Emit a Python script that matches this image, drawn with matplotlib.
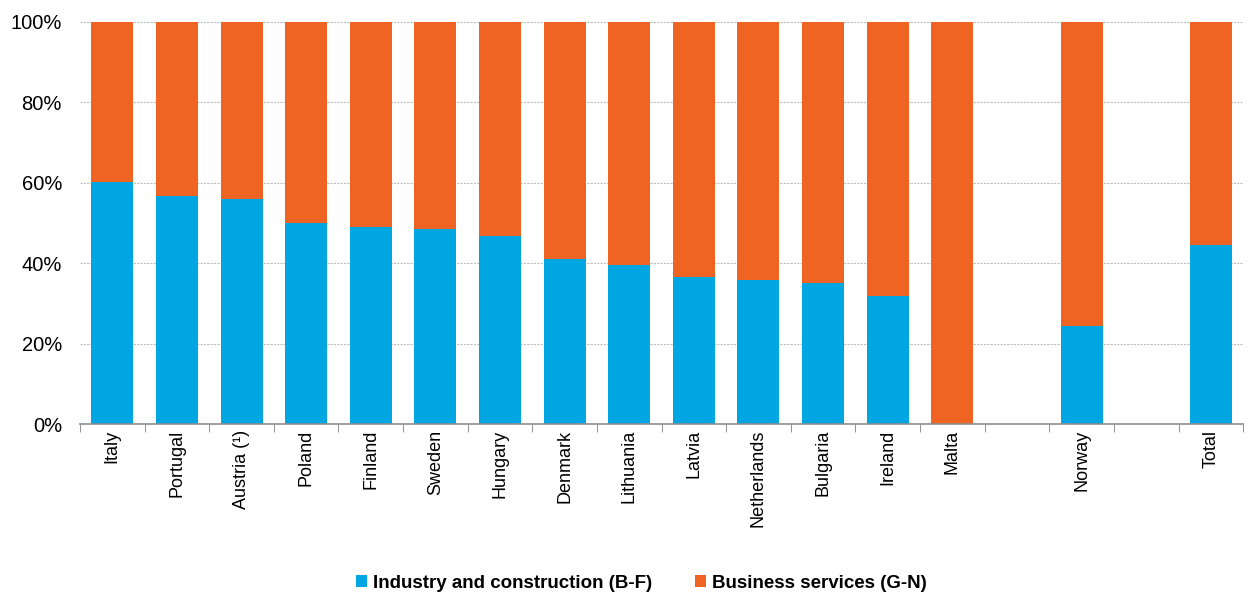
import matplotlib.pyplot as plt
import numpy as np
from matplotlib.ticker import PercentFormatter

plt.rcParams['font.family'] = ['Liberation Sans', 'DejaVu Sans']

# empty strings are the gaps in the original chart
countries = ['Italy', 'Portugal', 'Austria (¹)', 'Poland', 'Finland', 'Sweden',
             'Hungary', 'Denmark', 'Lithuania', 'Latvia', 'Netherlands',
             'Bulgaria', 'Ireland', 'Malta', '', 'Norway', '', 'Total']
industry = [60.2, 56.8, 56.0, 50.1, 48.9, 48.4, 46.8, 41.0, 39.5, 36.6, 35.9,
            35.0, 31.8, 0.0, np.nan, 24.3, np.nan, 44.5]
services = [100 - v if not np.isnan(v) else np.nan for v in industry]

blue = '#00a6e2'
orange = '#ef6423'

fig = plt.figure(figsize=(12.48, 5.94), dpi=100)
ax = fig.add_axes([0.0641, 0.286, 0.932, 0.677])

x = np.arange(len(countries))
ind = np.nan_to_num(industry)
srv = np.nan_to_num(services)
ax.bar(x, ind, width=0.65, color=blue, label='Industry and construction (B-F)', zorder=2)
ax.bar(x, srv, width=0.65, bottom=ind, color=orange, label='Business services (G-N)', zorder=2)

ax.set_xlim(-0.5, len(countries) - 0.5)
ax.set_ylim(0, 100)
ax.set_yticks(range(0, 101, 20))
ax.yaxis.set_major_formatter(PercentFormatter(decimals=0))
ax.grid(axis='y', color='#bfbfbf', linestyle=(0, (2, 1)), linewidth=0.8, zorder=0)

ax.set_xticks(x)
ax.set_xticklabels(countries, rotation=90, fontsize=13)
ax.set_xticks(np.arange(-0.5, len(countries), 1), minor=True)
ax.tick_params(axis='x', which='major', length=0, pad=4)
ax.tick_params(axis='x', which='minor', length=6, color='#7f7f7f')
ax.tick_params(axis='y', length=0, labelsize=14.5, pad=13)

for s in ['top', 'right', 'left']:
    ax.spines[s].set_visible(False)
ax.spines['bottom'].set_color('#8c8c8c')
ax.spines['bottom'].set_linewidth(1.2)

fig.legend(loc='lower center', bbox_to_anchor=(0.514, -0.025), ncol=2, frameon=False,
           prop={'weight': 'bold', 'size': 13.5}, handlelength=0.6, handleheight=0.6,
           handletextpad=0.3, columnspacing=2.3)

fig.savefig('out.png', dpi=100)
